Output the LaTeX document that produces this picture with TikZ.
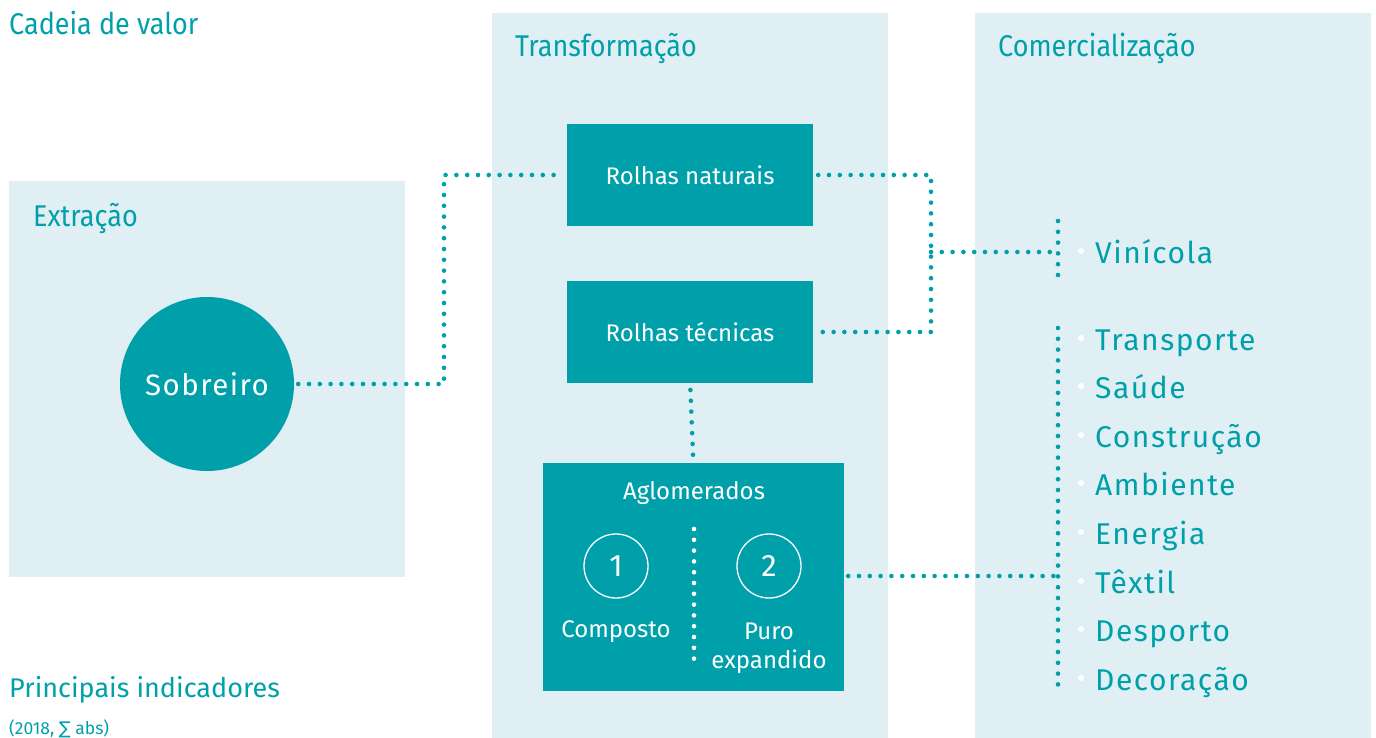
\documentclass[tikz,border=0pt]{standalone}
\usepackage{fontspec}
\setmainfont{Fira Sans}
\newfontfamily\condfont[FakeStretch=0.9]{Fira Sans}
\newfontfamily\spfont[LetterSpace=5]{Fira Sans}
\newfontfamily\symfont{DejaVu Sans}
\definecolor{cteal}{RGB}{0,160,171}
\definecolor{cpanel}{RGB}{224,239,243}
\tikzset{
  panel/.style={fill=cpanel},
  ttl/.style={text=cteal, font=\condfont\fontsize{30}{32}\selectfont, anchor=base west, inner sep=0pt},
  tbox/.style={fill=cteal, text=white, minimum width=246pt, minimum height=102pt, inner sep=0pt, font=\fontsize{24}{28}\selectfont},
  dotline/.style={draw=cteal, line width=4.6pt, line cap=round, dash pattern=on 0pt off 10.8pt},
  wdots/.style={draw=white, line width=4.6pt, line cap=round, dash pattern=on 0pt off 10.8pt},
  item/.style={text=cteal, anchor=base west, inner sep=0pt, font=\spfont\fontsize{30}{32}\selectfont},
  bul/.style={circle, fill=white, minimum size=6pt, inner sep=0pt},
  num/.style={circle, draw=white, line width=1.3pt, minimum size=64pt, inner sep=0pt, text=white, font=\fontsize{31}{34}\selectfont},
  wlab/.style={text=white, inner sep=0pt, font=\fontsize{24}{29}\selectfont, align=center}
}
\begin{document}
\begin{tikzpicture}[x=1pt,y=-1pt]
\useasboundingbox (0,0) rectangle (1376,738);
% panels
\path[panel] (9,181) rectangle (405,577);
\path[panel] (492,13) rectangle (888,738);
\path[panel] (975,13) rectangle (1371,738);
% titles
\node[ttl] (tcad) at (9,35) {Cadeia de valor};
\node[ttl] (text) at (33,226) {Extração};
\node[ttl] (ttra) at (515,57) {Transformação};
\node[ttl] (tcom) at (998,57) {Comercialização};
\node[ttl, font=\fontsize{27}{30}\selectfont] (tpri) at (9,697) {Principais indicadores};
\node[ttl, font=\fontsize{17.5}{20}\selectfont] (tsub) at (9,734) {(2018, {\symfont∑} abs)};
% nodes
\node[circle, fill=cteal, minimum size=174pt, inner sep=0pt, text=white, font=\spfont\fontsize{29.5}{32}\selectfont] (sob) at (207,384) {Sobreiro};
\node[tbox] (rn) at (690,175) {Rolhas naturais};
\node[tbox] (rt) at (690,332) {Rolhas técnicas};
\node[fill=cteal, minimum width=301pt, minimum height=228pt, inner sep=0pt] (ag) at (693.5,577) {};
\node[wlab] (agl) at (694,493) {Aglomerados};
\node[num] (n1) at (616,566) {1};
\node[num] (n2) at (769,566) {2};
\node[wlab] (l1) at (616,632) {Composto};
\node[wlab, anchor=north] (l2) at (769,623) {Puro\\expandido};
\coordinate (dtop) at (694,529);
\coordinate (dbot) at (694,667);
\draw[wdots] (dtop) -- (dbot);
% list
\node[item] (vin) at (1095,263) {Vinícola};
\node[item] (i1) at (1095,350) {Transporte};
\node[item] (i2) at (1095,398) {Saúde};
\node[item] (i3) at (1095,447) {Construção};
\node[item] (i4) at (1095,495) {Ambiente};
\node[item] (i5) at (1095,544) {Energia};
\node[item] (i6) at (1095,593) {Têxtil};
\node[item] (i7) at (1095,641) {Desporto};
\node[item] (i8) at (1095,690) {Decoração};
\foreach \n/\yy in {b0/251,b1/338,b2/386,b3/435,b4/483,b5/532,b6/581,b7/629,b8/678}
  \node[bul] (\n) at (1081,\yy) {};
% connectors
\coordinate (j1) at (444,280);
\coordinate (j2) at (931,252);
\coordinate (v1t) at (1058,221);
\coordinate (v1b) at (1058,282);
\coordinate (v2t) at (1058,328);
\coordinate (v2b) at (1058,690);
\coordinate (v2m) at (1058,576);
\draw[dotline] ([xshift=4pt]sob.east) -- (sob.east -| j1) -- (j1 |- rn.west) -- ([xshift=-4pt]rn.west);
\draw[dotline] ([xshift=5pt]rn.east) -- (rn.east -| j2) -- (rt.east -| j2) -- ([xshift=5pt]rt.east);
\draw[dotline] (j2) -- (v1t |- j2);
\draw[dotline] (v1t) -- (v1b);
\draw[dotline] (v2t) -- (v2b);
\draw[dotline] ([xshift=4pt]ag.east |- v2m) -- (v2m);
\draw[dotline] ([yshift=4pt]rt.south) -- ([yshift=-4pt]ag.north);
\end{tikzpicture}
\end{document}
